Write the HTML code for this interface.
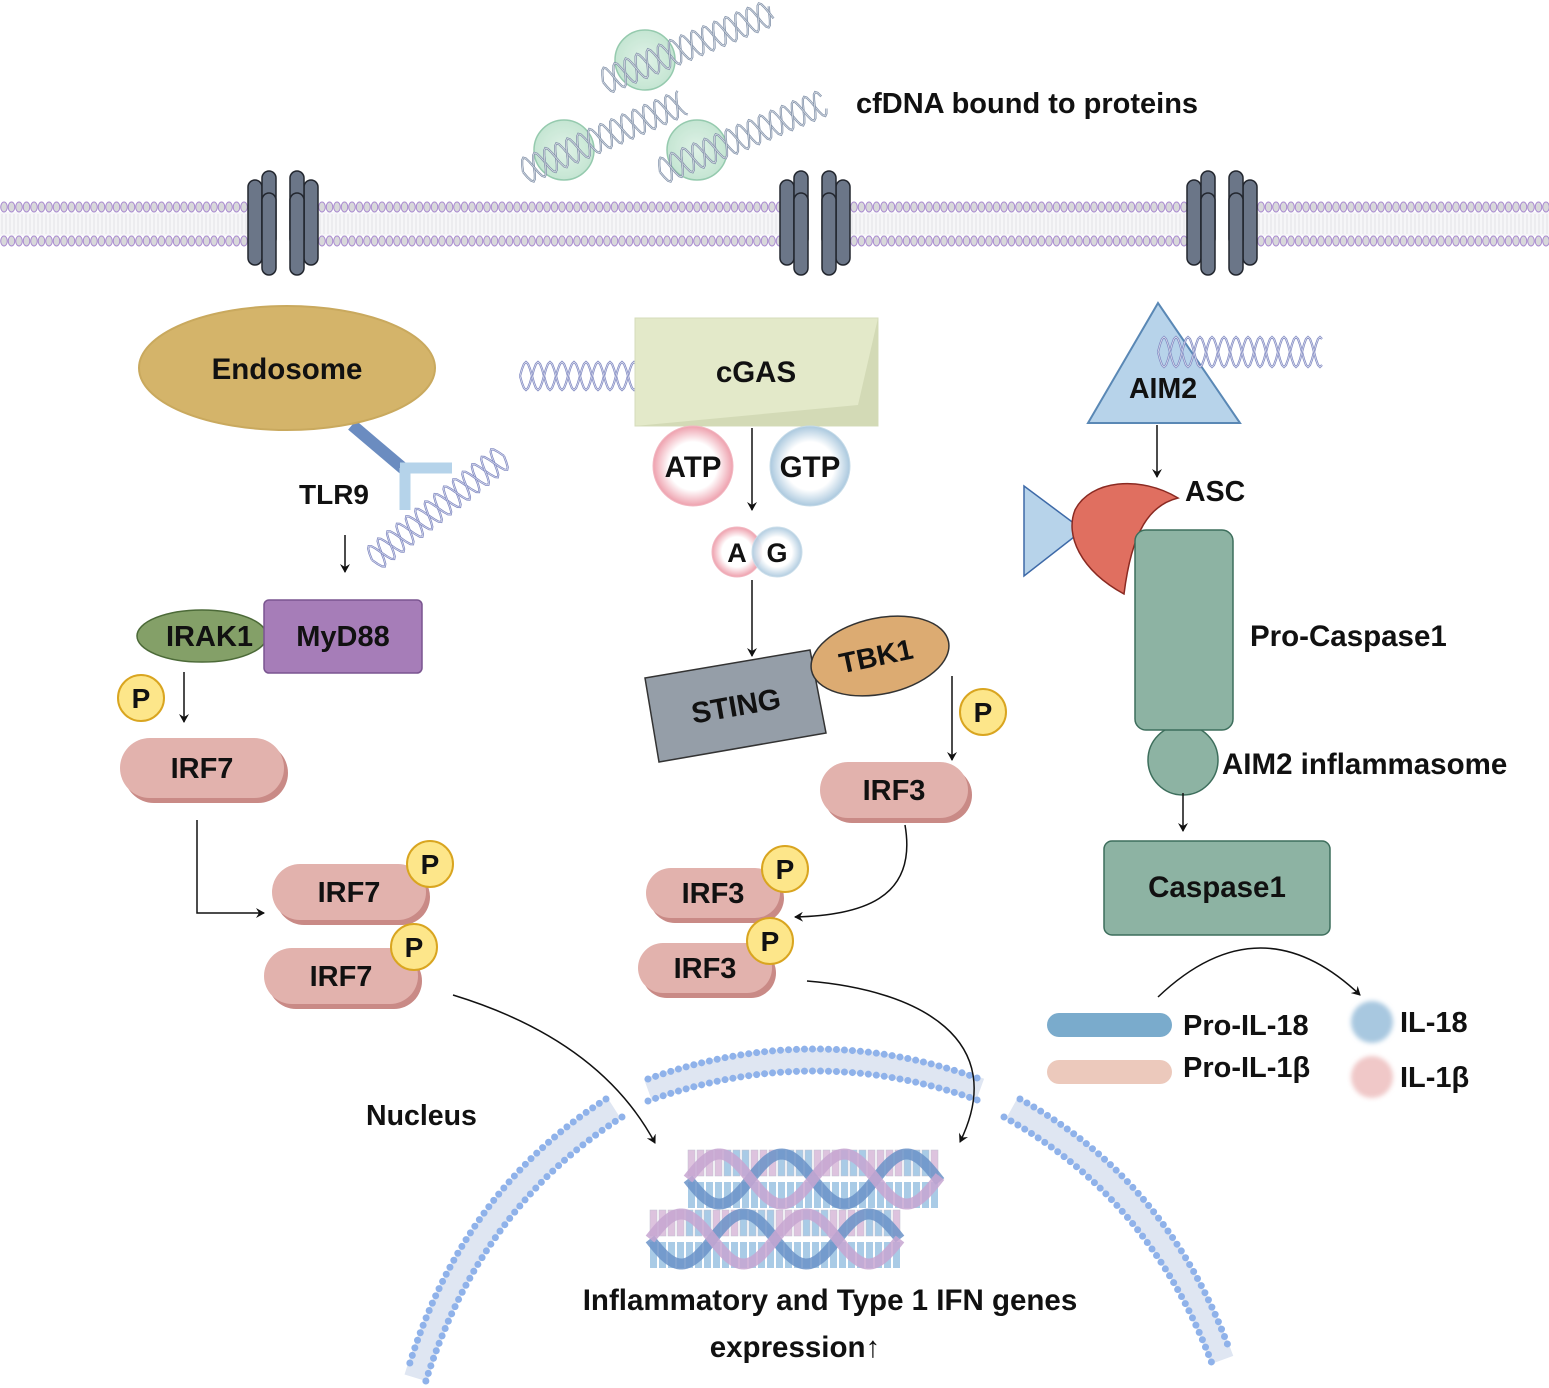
<!DOCTYPE html>
<html><head><meta charset="utf-8">
<style>
html,body{margin:0;padding:0;background:#fff}
svg{display:block}
text{font-family:"Liberation Sans",Arial,sans-serif;font-weight:bold;fill:#111}
</style></head>
<body>
<svg id="s" width="1549" height="1388" viewBox="0 0 1549 1388" xmlns="http://www.w3.org/2000/svg">
<defs>
<marker id="ar" markerWidth="10" markerHeight="10" refX="8" refY="5" orient="auto" markerUnits="userSpaceOnUse">
<path d="M0,0 L9,5 L0,10 L3,5 Z" fill="#111"/></marker>
<radialGradient id="gp" cx="50%" cy="50%" r="50%"><stop offset="60%" stop-color="#fff"/><stop offset="100%" stop-color="#eea0ad"/></radialGradient>
<radialGradient id="gb" cx="50%" cy="50%" r="50%"><stop offset="60%" stop-color="#fff"/><stop offset="100%" stop-color="#aac8de"/></radialGradient>
<radialGradient id="gg" cx="50%" cy="50%" r="50%"><stop offset="0%" stop-color="#d8efe2"/><stop offset="100%" stop-color="#b7e0c8"/></radialGradient>
<filter id="bl"><feGaussianBlur stdDeviation="2.5"/></filter>
</defs>
<g id="mem"></g>
<!-- cfDNA circles -->
<circle cx="645" cy="60" r="30" fill="url(#gg)" stroke="#7bbd9a" stroke-width="1.5" opacity="0.8"/>
<circle cx="564" cy="150" r="30" fill="url(#gg)" stroke="#7bbd9a" stroke-width="1.5" opacity="0.8"/>
<circle cx="697" cy="150" r="30" fill="url(#gg)" stroke="#7bbd9a" stroke-width="1.5" opacity="0.8"/>
<g id="dyn"></g>
<g id="ch"></g>
<text x="856" y="113" font-size="29">cfDNA bound to proteins</text>

<!-- Endosome / TLR9 -->
<line x1="352" y1="425" x2="405" y2="470" stroke="#6b8cc0" stroke-width="12"/>
<path d="M400,468 L452,468 M405,468 L405,510" stroke="#b5d3ea" stroke-width="11" fill="none"/>
<ellipse cx="287" cy="368" rx="148" ry="62" fill="#d4b46a" stroke="#c9a95e" stroke-width="2"/>
<text x="287" y="379" font-size="29.5" text-anchor="middle">Endosome</text>
<text x="299" y="504" font-size="28">TLR9</text>
<line x1="345" y1="535" x2="345" y2="572" stroke="#111" stroke-width="1.5" marker-end="url(#ar)"/>

<ellipse cx="202" cy="636" rx="65" ry="26" fill="#84a068" stroke="#4c6a38" stroke-width="1.5"/>
<text x="166" y="646" font-size="29">IRAK1</text>
<rect x="264" y="600" width="158" height="73" rx="5" fill="#a67db8" stroke="#7a5590" stroke-width="1.5"/>
<text x="343" y="646" font-size="29" text-anchor="middle">MyD88</text>
<line x1="184" y1="672" x2="184" y2="722" stroke="#111" stroke-width="1.5" marker-end="url(#ar)"/>

<g id="pills"></g>

<path d="M197,820 L197,913 L264,913" fill="none" stroke="#111" stroke-width="1.5" marker-end="url(#ar)"/>
<path d="M453,995 Q600,1040 655,1143" fill="none" stroke="#111" stroke-width="1.5" marker-end="url(#ar)"/>

<!-- cGAS -->
<path d="M635,318 L878,318 L878,426 L635,426 Z" fill="#e3e9c9" stroke="#d6dcbb"/>
<path d="M878,318 L858,405 L635,426 L878,426 Z" fill="#d3dab6"/>
<text x="756" y="382" font-size="29.5" text-anchor="middle">cGAS</text>
<circle cx="693" cy="466" r="40" fill="url(#gp)" stroke="#f2b8c2"/>
<circle cx="810" cy="466" r="40" fill="url(#gb)" stroke="#c6dbe8"/>
<text x="693" y="477" font-size="29.5" text-anchor="middle">ATP</text>
<text x="810" y="477" font-size="29.5" text-anchor="middle">GTP</text>
<line x1="752" y1="428" x2="752" y2="510" stroke="#111" stroke-width="1.5" marker-end="url(#ar)"/>
<circle cx="737" cy="552" r="25" fill="url(#gp)" stroke="#f2b8c2"/>
<circle cx="777" cy="552" r="25" fill="url(#gb)" stroke="#c6dbe8" opacity="0.9"/>
<text x="737" y="562" font-size="27" text-anchor="middle">A</text>
<text x="777" y="562" font-size="27" text-anchor="middle">G</text>
<line x1="752" y1="580" x2="752" y2="656" stroke="#111" stroke-width="1.5" marker-end="url(#ar)"/>
<polygon points="645,678 810,650 826,733 659,762" fill="#959ea8" stroke="#333" stroke-width="1.5"/>
<text x="736" y="716" font-size="29.5" text-anchor="middle" transform="rotate(-10 736 706)">STING</text>
<ellipse cx="880" cy="656" rx="70" ry="38" transform="rotate(-12 880 656)" fill="#dcab72" stroke="#333" stroke-width="1.5"/>
<text x="876" y="666" font-size="28.5" text-anchor="middle" transform="rotate(-12 876 656)">TBK1</text>
<line x1="952" y1="676" x2="952" y2="760" stroke="#111" stroke-width="1.5" marker-end="url(#ar)"/>
<path d="M905,825 C918,900 860,915 795,917" fill="none" stroke="#111" stroke-width="1.5" marker-end="url(#ar)"/>
<path d="M807,981 C920,990 1010,1040 960,1142" fill="none" stroke="#111" stroke-width="1.5" marker-end="url(#ar)"/>

<text x="366" y="1125" font-size="28.5">Nucleus</text>
<g id="genes"></g>
<text x="830" y="1310" font-size="29.5" text-anchor="middle">Inflammatory and Type 1 IFN genes</text>
<text x="795" y="1357" font-size="29.5" text-anchor="middle">expression↑</text>

<!-- AIM2 -->
<polygon points="1088,423 1158,303 1240,423" fill="#b7d3ea" stroke="#5a88b5" stroke-width="2"/>
<g id="aimdna"></g>
<text x="1163" y="398" font-size="28.5" text-anchor="middle">AIM2</text>
<line x1="1157" y1="425" x2="1157" y2="477" stroke="#111" stroke-width="1.5" marker-end="url(#ar)"/>
<polygon points="1024,486 1024,576 1083,530" fill="#b7d3ea" stroke="#3e6aa8" stroke-width="1.5"/>
<path d="M1124,594 C1080,570 1065,535 1075,510 C1090,480 1140,475 1178,498 C1150,505 1132,530 1124,594 Z" fill="#e06f60" stroke="#8a2a22" stroke-width="1.5"/>
<text x="1185" y="501" font-size="28.5">ASC</text>
<circle cx="1183" cy="760" r="35" fill="#8db3a3" stroke="#3d6e5c" stroke-width="1.5"/>
<rect x="1135" y="530" width="98" height="200" rx="11" fill="#8db3a3" stroke="#3d6e5c" stroke-width="1.5"/>
<text x="1250" y="646" font-size="29.5">Pro-Caspase1</text>
<text x="1222" y="774" font-size="29.5">AIM2 inflammasome</text>
<line x1="1183" y1="793" x2="1183" y2="831" stroke="#111" stroke-width="1.5" marker-end="url(#ar)"/>
<rect x="1104" y="841" width="226" height="94" rx="8" fill="#8db3a3" stroke="#3d6e5c" stroke-width="1.5"/>
<text x="1217" y="897" font-size="29.5" text-anchor="middle">Caspase1</text>
<path d="M1158,997 Q1260,900 1360,995" fill="none" stroke="#111" stroke-width="1.5" marker-end="url(#ar)"/>
<rect x="1047" y="1013" width="125" height="24" rx="12" fill="#7aabcc"/>
<rect x="1047" y="1060" width="125" height="24" rx="12" fill="#ecc9bc"/>
<text x="1183" y="1035" font-size="29">Pro-IL-18</text>
<text x="1183" y="1077" font-size="29">Pro-IL-1β</text>
<circle cx="1372" cy="1022" r="21" fill="#a8c8e0" filter="url(#bl)"/>
<circle cx="1372" cy="1077" r="21" fill="#f0c8c8" filter="url(#bl)"/>
<text x="1400" y="1032" font-size="29">IL-18</text>
<text x="1400" y="1087" font-size="29">IL-1β</text>
</svg>
<script>
var NS="http://www.w3.org/2000/svg";
function el(p,t,a){var e=document.createElementNS(NS,t);for(var k in a)e.setAttribute(k,a[k]);p.appendChild(e);return e;}
var mem=document.getElementById("mem");
[[0,250],[318,782],[850,1189],[1257,1549]].forEach(function(r){
 el(mem,"rect",{x:r[0],y:212,width:r[1]-r[0],height:24,fill:"#f6f6f8"});
 for(var x=r[0];x<r[1];x+=4){el(mem,"line",{x1:x+2,y1:214,x2:x+2,y2:234,stroke:"#e2e2e6","stroke-width":1});}
 [207,241].forEach(function(y){for(var x=r[0]+4;x<r[1]-2;x+=7.5){el(mem,"ellipse",{cx:x,cy:y,rx:3.3,ry:5,fill:"#d8d8da",stroke:"#a98ad0","stroke-width":1});}});
});
var ch=document.getElementById("ch");
[248,780,1187].forEach(function(x0){
 var f={fill:"#6b7688",stroke:"#22262e","stroke-width":1.5};
 function b(x,y,h){var a=Object.assign({x:x,y:y,width:14,height:h,rx:7},f);el(ch,"rect",a);}
 b(x0,180,85);b(x0+14,171,75);b(x0+14,193,82);
 b(x0+56,180,85);b(x0+42,171,75);b(x0+42,193,82);
});
var dyn=document.getElementById("dyn");
function helix(x1,y1,x2,y2,amp,per,col,g){
 g=g||dyn;var dx=x2-x1,dy=y2-y1,L=Math.hypot(dx,dy),ux=dx/L,uy=dy/L,nx=-uy,ny=ux;
 for(var ph=0;ph<2;ph++){var d="";for(var t=0;t<=L;t+=2){var o=amp*Math.sin(t/per*2*Math.PI+ph*Math.PI);var X=x1+ux*t+nx*o,Y=y1+uy*t+ny*o;d+=(t?"L":"M")+X.toFixed(1)+","+Y.toFixed(1);}
 el(g,"path",{d:d,fill:"none",stroke:col,"stroke-width":2.2});
 el(g,"path",{d:d,fill:"none",stroke:"#fff","stroke-width":0.8,opacity:0.7});}
}
helix(603,82,772,12,13,24,"#8090a8");
helix(523,172,684,102,13,24,"#8090a8");
helix(660,172,825,102,13,24,"#8090a8");
helix(520,376,688,376,14,24,"#7d86c0");
helix(372,560,505,455,13,24,"#7d86c0");
helix(1158,352,1322,352,15,24,"#7d86c0",document.getElementById("aimdna"));
var pills=document.getElementById("pills");
function pill(x,y,w,h,lab){
 el(pills,"rect",{x:x+4,y:y+5,width:w,height:h,rx:h/2,fill:"#c98a86"});
 el(pills,"rect",{x:x,y:y,width:w,height:h,rx:h/2,fill:"#e2b2ad"});
 var t=el(pills,"text",{x:x+w/2,y:y+h/2+10,"font-size":29,"text-anchor":"middle"});t.textContent=lab;
}
function P(x,y){el(pills,"circle",{cx:x,cy:y,r:23,fill:"#fde68a",stroke:"#d9a520","stroke-width":2});
 var t=el(pills,"text",{x:x,y:y+10,"font-size":28,"text-anchor":"middle"});t.textContent="P";}
pill(120,738,164,60,"IRF7");
pill(272,864,154,56,"IRF7");
pill(264,948,154,56,"IRF7");
pill(820,762,148,56,"IRF3");
pill(646,868,134,50,"IRF3");
pill(638,943,134,50,"IRF3");
P(141,698);P(430,864);P(414,947);P(983,712);P(785,869);P(770,941);
function nm(d){
 var g=el(mem,"g",{});
 el(g,"path",{d:d,fill:"none",stroke:"#dfe6f2","stroke-width":24});
 el(g,"path",{d:d,fill:"none",stroke:"#8fb2ea","stroke-width":7,"stroke-dasharray":"0 8","stroke-linecap":"round",transform:"translate(0,-11)"});
 el(g,"path",{d:d,fill:"none",stroke:"#8fb2ea","stroke-width":7,"stroke-dasharray":"0 8","stroke-linecap":"round",transform:"translate(0,11)"});
}
nm("M648,1090 Q815,1030 980,1090");
function side(d,dx){var g=el(mem,"g",{});
 el(g,"path",{d:d,fill:"none",stroke:"#dfe6f2","stroke-width":24});
 el(g,"path",{d:d,fill:"none",stroke:"#8fb2ea","stroke-width":7,"stroke-dasharray":"0 8","stroke-linecap":"round",transform:"translate("+dx+",-9)"});
 el(g,"path",{d:d,fill:"none",stroke:"#8fb2ea","stroke-width":7,"stroke-dasharray":"0 8","stroke-linecap":"round",transform:"translate("+(-dx)+",9)"});}
side("M614,1108 Q470,1200 416,1378",-8);
side("M1012,1108 Q1160,1190 1222,1360",8);
var gn=document.getElementById("genes");
function genes(x0,y0,w,h){
 for(var x=x0;x<x0+w;x+=9){el(gn,"rect",{x:x,y:y0,width:7,height:h/2-3,fill:(Math.floor((x-x0)/30)%2?"#a9cbe6":"#ddc3de"),stroke:"#c0c0d0","stroke-width":0.5});
 el(gn,"rect",{x:x,y:y0+h/2+3,width:7,height:h/2-3,fill:"#a9cbe6"});}
 [["#6b93c8",0],["#c7a6d1",Math.PI]].forEach(function(c){var d="";for(var t=0;t<=w;t+=2){var Y=y0+h/2+(h/2-4)*Math.sin(t/125*2*Math.PI+c[1]);d+=(t?"L":"M")+(x0+t)+","+Y.toFixed(1);}
 el(gn,"path",{d:d,fill:"none",stroke:c[0],"stroke-width":11,opacity:0.85});});
}
genes(688,1150,252,58);
genes(650,1210,250,58);
</script>
</body></html>
